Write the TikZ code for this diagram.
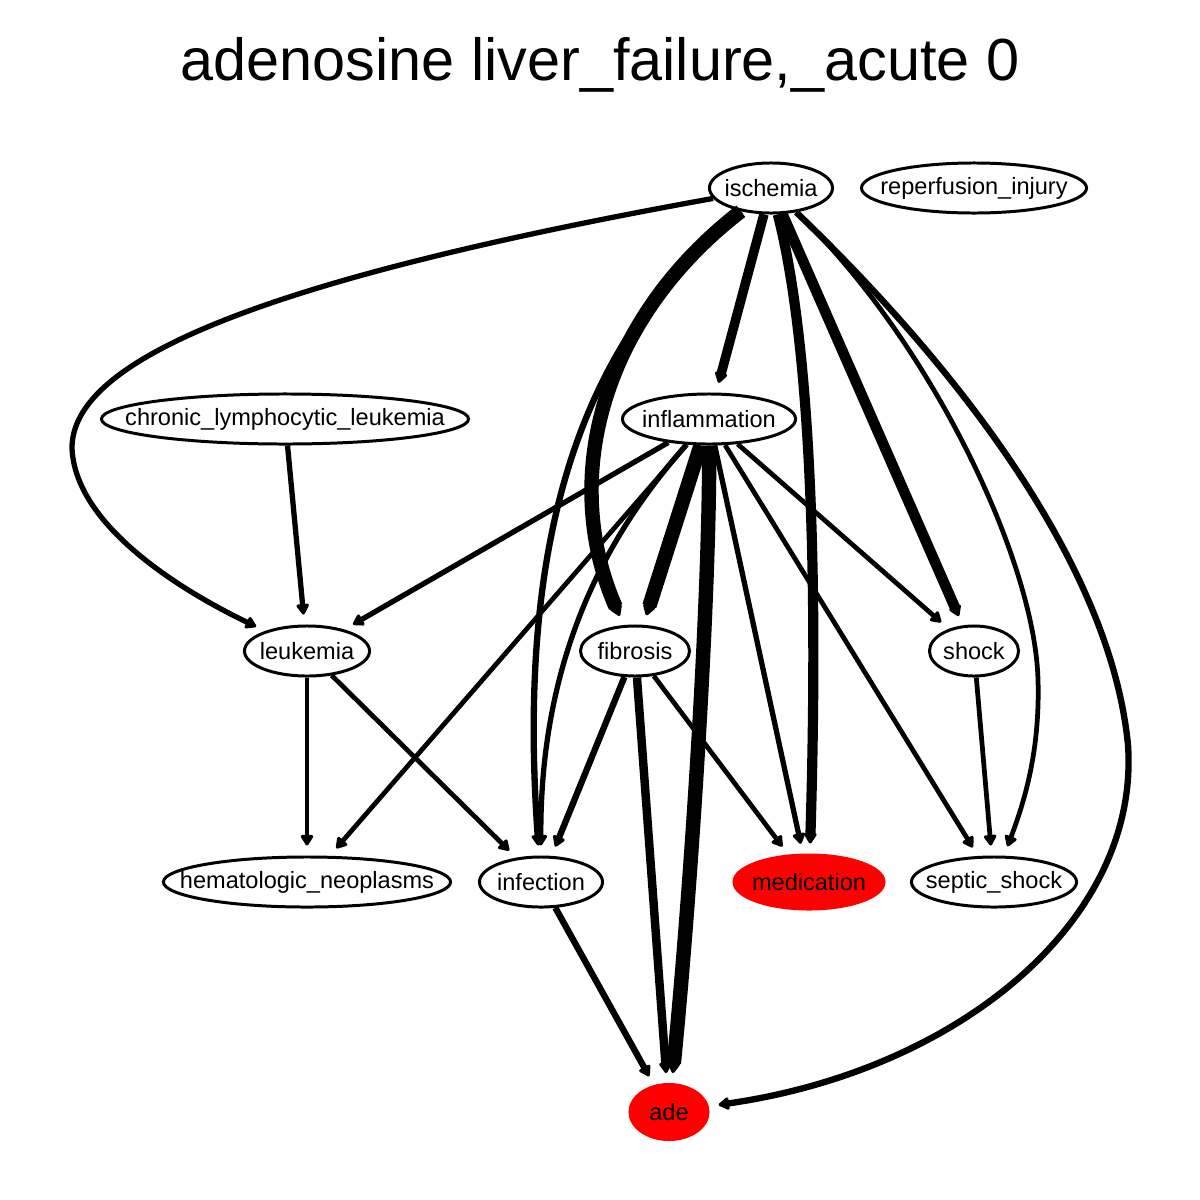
\documentclass[tikz,border=0pt]{standalone}
\usepackage{fontspec}
\setmainfont{Liberation Sans}
\usetikzlibrary{arrows.meta,shapes.geometric}

\begin{document}
\begin{tikzpicture}[
  x=0.01cm, y=-0.01cm,
  font=\fontsize{6.7pt}{8pt}\selectfont,
  var/.style={ellipse, draw, line width=0.85pt, inner sep=0pt, minimum height=0.5cm,
    execute at begin node={\hbox to 0pt\bgroup\hss}, execute at end node={\hss\egroup}},
  hit/.style={var, draw=red, fill=red},
  lnk/.style={line width=#1, -{Triangle[round,length=0.12cm,width=0.14cm]}, shorten >=0.1cm},
]
\useasboundingbox (0,0) rectangle (1200,1200);
\node (title) at (600,65) {\fontsize{16.9pt}{20pt}\selectfont adenosine liver\_failure,\_acute 0};

\node[var, minimum width=1.23cm] (ischemia) at (771,188) {ischemia};
\node[var, minimum width=2.25cm] (reperfusion) at (974,188) {reperfusion\_injury};
\node[var, minimum width=3.67cm] (cll) at (285,419) {chronic\_lymphocytic\_leukemia};
\node[var, minimum width=1.73cm] (inflammation) at (709,419) {inflammation};
\node[var, minimum width=1.25cm] (leukemia) at (307,651) {leukemia};
\node[var, minimum width=1.09cm] (fibrosis) at (635,651) {fibrosis};
\node[var, minimum width=0.89cm] (shock) at (974,651) {shock};
\node[var, minimum width=2.87cm] (hemneo) at (307,882) {hematologic\_neoplasms};
\node[var, minimum width=1.23cm] (infection) at (541,882) {infection};
\node[hit, minimum width=1.5cm, minimum height=0.54cm] (medication) at (809,882) {medication};
\node[hit, minimum width=0.78cm, minimum height=0.55cm] (ade) at (669,1112) {ade};
\node[var, minimum width=1.65cm] (septic) at (994,882) {septic\_shock};

% from ischemia
\draw[lnk=1.5pt] (ischemia) .. controls (260,280) and (72,360) .. (72,448)
  .. controls (75,525) and (180,590) .. (leukemia);
\draw[lnk=2.7pt] (ischemia) -- (inflammation);
\draw[lnk=4.1pt] (ischemia) .. controls (600,320) and (560,480) .. (fibrosis);
\draw[lnk=1.8pt] (ischemia) .. controls (590,330) and (515,520) .. (infection);
\draw[lnk=2.9pt] (ischemia) .. controls (805,320) and (820,520) .. (medication);
\draw[lnk=3pt] (ischemia) -- (shock);
\draw[lnk=1.35pt] (ischemia) .. controls (930,340) and (1035,560) .. (1038,680)
  .. controls (1040,750) and (1025,800) .. (septic);
\draw[lnk=1.8pt] (ischemia) .. controls (950,360) and (1110,560) .. (1128,745)
  .. controls (1140,920) and (960,1070) .. (ade);

% from inflammation
\draw[lnk=1.5pt] (inflammation) -- (leukemia);
\draw[lnk=1.35pt] (inflammation) -- (hemneo);
\draw[lnk=1.5pt] (inflammation) .. controls (620,520) and (540,640) .. (infection);
\draw[lnk=4.1pt] (inflammation) -- (fibrosis);
\draw[lnk=4.1pt] (inflammation) .. controls (710,600) and (690,900) .. (ade);
\draw[lnk=1.5pt] (inflammation) -- (medication);
\draw[lnk=1.35pt] (inflammation) -- (shock);
\draw[lnk=1.35pt] (inflammation) -- (septic);

% the rest
\draw[lnk=1.5pt] (cll) -- (leukemia);
\draw[lnk=1.35pt] (leukemia) -- (hemneo);
\draw[lnk=1.35pt] (leukemia) -- (infection);
\draw[lnk=1.8pt] (fibrosis) -- (infection);
\draw[lnk=2.4pt] (fibrosis) -- (ade);
\draw[lnk=1.35pt] (fibrosis) -- (medication);
\draw[lnk=1.8pt] (infection) -- (ade);
\draw[lnk=1.35pt] (shock) -- (septic);
\end{tikzpicture}
\end{document}
